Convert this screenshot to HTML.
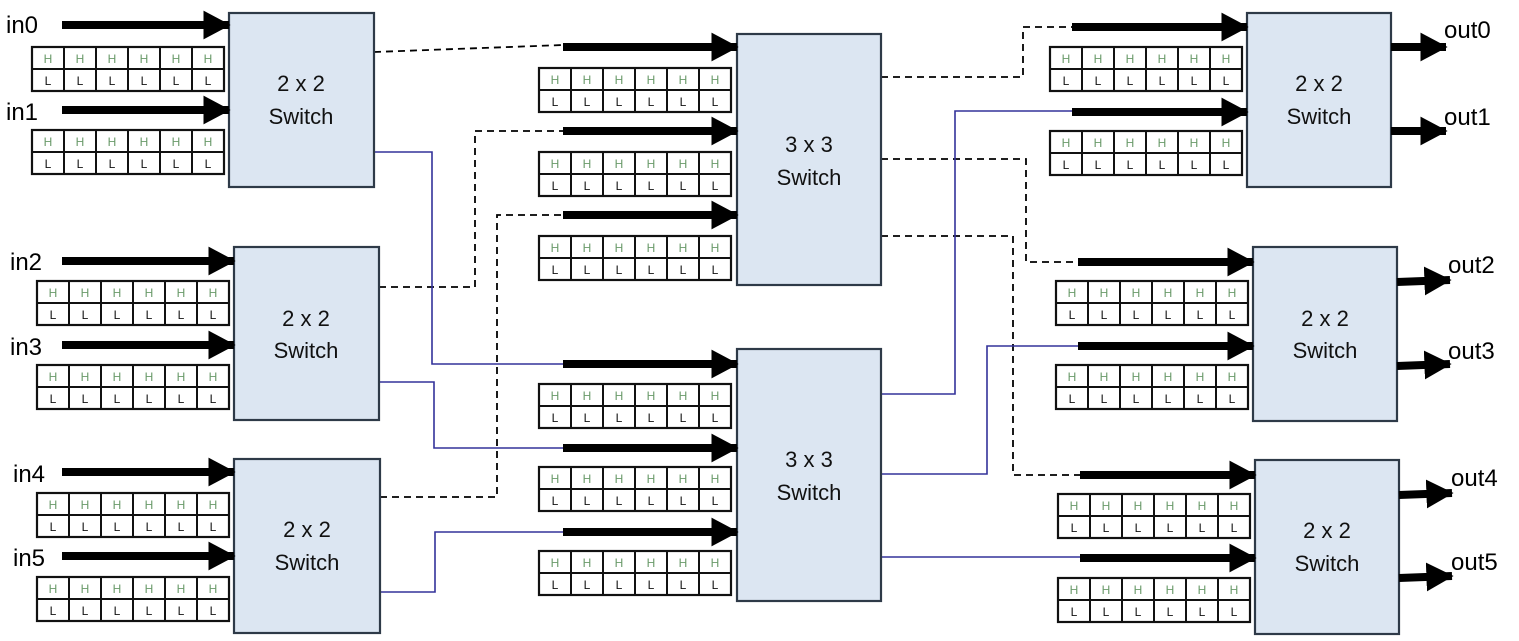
<!DOCTYPE html>
<html><head><meta charset="utf-8"><style>
html,body{margin:0;padding:0;background:#fff;}
svg{display:block;font-family:"Liberation Sans",Arial,sans-serif;}
.sw{fill:#dce6f2;stroke:#2e3a48;stroke-width:2.2;}
.st{font-size:22px;fill:#111;text-anchor:middle;}
.lb{font-size:24px;fill:#000;}
.bo{fill:#fff;stroke:#111;stroke-width:2.2;}
.bl{stroke:#111;stroke-width:2;}
.h{font-size:12px;fill:#6a9a6a;text-anchor:middle;}
.l{font-size:12px;fill:#111;text-anchor:middle;}
.ar{stroke:#000;stroke-width:8;}
.ds{fill:none;stroke:#000;stroke-width:1.8;stroke-dasharray:7,5;}
.bu{fill:none;stroke:#33329a;stroke-width:1.6;}
</style></head><body>
<svg width="1519" height="641" viewBox="0 0 1519 641" xmlns="http://www.w3.org/2000/svg">
<defs>
<marker id="ah" markerWidth="4" markerHeight="4" refX="3.2" refY="2" orient="auto" markerUnits="strokeWidth"><path d="M0,0.2 L3.4,2 L0,3.8 Z" fill="#000"/></marker>
</defs>

<!-- connectors -->
<path class="ds" d="M374,52 L563,45"/>
<path class="ds" d="M379,287 H475 V131 H563"/>
<path class="ds" d="M380,497 H497 V215 H563"/>
<path class="bu" d="M374,152 H432 V364 H563"/>
<path class="bu" d="M379,382 H434 V448 H563"/>
<path class="bu" d="M380,592 H435 V532 H563"/>
<path class="ds" d="M881,77 H1023 V27 H1072"/>
<path class="ds" d="M881,159 H1026 V262 H1078"/>
<path class="ds" d="M881,236 H1013 V475 H1080"/>
<path class="bu" d="M881,394 H955 V111 H1072"/>
<path class="bu" d="M881,474 H987 V346 H1078"/>
<path class="bu" d="M881,557 H1080"/>

<!-- switches -->
<rect class="sw" x="229" y="13" width="145" height="174"/>
<text class="st" x="301" y="91">2 x 2</text><text class="st" x="301" y="124">Switch</text>
<rect class="sw" x="234" y="247" width="145" height="173"/>
<text class="st" x="306" y="326">2 x 2</text><text class="st" x="306" y="358">Switch</text>
<rect class="sw" x="234" y="459" width="146" height="174"/>
<text class="st" x="307" y="537">2 x 2</text><text class="st" x="307" y="570">Switch</text>
<rect class="sw" x="737" y="34" width="144" height="251"/>
<text class="st" x="809" y="152">3 x 3</text><text class="st" x="809" y="185">Switch</text>
<rect class="sw" x="737" y="349" width="144" height="252"/>
<text class="st" x="809" y="467">3 x 3</text><text class="st" x="809" y="500">Switch</text>
<rect class="sw" x="1247" y="13" width="144" height="174"/>
<text class="st" x="1319" y="91">2 x 2</text><text class="st" x="1319" y="124">Switch</text>
<rect class="sw" x="1253" y="247" width="144" height="174"/>
<text class="st" x="1325" y="326">2 x 2</text><text class="st" x="1325" y="358">Switch</text>
<rect class="sw" x="1255" y="460" width="144" height="174"/>
<text class="st" x="1327" y="538">2 x 2</text><text class="st" x="1327" y="571">Switch</text>

<!-- input arrows -->
<g class="ar" marker-end="url(#ah)">
<line x1="62" y1="25" x2="229" y2="25"/>
<line x1="62" y1="110" x2="229" y2="110"/>
<line x1="62" y1="261" x2="234" y2="261"/>
<line x1="62" y1="345" x2="234" y2="345"/>
<line x1="62" y1="472" x2="234" y2="472"/>
<line x1="62" y1="556" x2="234" y2="556"/>
<line x1="563" y1="47" x2="737" y2="47"/>
<line x1="563" y1="131" x2="737" y2="131"/>
<line x1="563" y1="215" x2="737" y2="215"/>
<line x1="563" y1="364" x2="737" y2="364"/>
<line x1="563" y1="448" x2="737" y2="448"/>
<line x1="563" y1="532" x2="737" y2="532"/>
<line x1="1072" y1="27" x2="1247" y2="27"/>
<line x1="1072" y1="112" x2="1247" y2="112"/>
<line x1="1078" y1="262" x2="1253" y2="262"/>
<line x1="1078" y1="346" x2="1253" y2="346"/>
<line x1="1080" y1="475" x2="1255" y2="475"/>
<line x1="1080" y1="558" x2="1255" y2="558"/>
<line x1="1391" y1="47" x2="1446" y2="47"/>
<line x1="1391" y1="131" x2="1446" y2="131"/>
<line x1="1397" y1="282" x2="1450" y2="280"/>
<line x1="1397" y1="366" x2="1450" y2="364"/>
<line x1="1399" y1="495" x2="1452" y2="493"/>
<line x1="1399" y1="578" x2="1452" y2="576"/>
</g>

<!-- labels -->
<text class="lb" x="6" y="33">in0</text>
<text class="lb" x="6" y="120">in1</text>
<text class="lb" x="10" y="270">in2</text>
<text class="lb" x="10" y="355">in3</text>
<text class="lb" x="13" y="482">in4</text>
<text class="lb" x="13" y="566">in5</text>
<text class="lb" x="1444" y="38">out0</text>
<text class="lb" x="1444" y="125">out1</text>
<text class="lb" x="1448" y="273">out2</text>
<text class="lb" x="1448" y="359">out3</text>
<text class="lb" x="1451" y="486">out4</text>
<text class="lb" x="1451" y="570">out5</text>

<!-- buffers -->
<g id="buffers">
<g transform="translate(32,47)"><rect class="bo" width="192" height="44"/><path class="bl" d="M0,22H192M32,0V44M64,0V44M96,0V44M128,0V44M160,0V44"/><text class="h" x="16 48 80 112 144 176" y="16">HHHHHH</text><text class="l" x="16 48 80 112 144 176" y="38">LLLLLL</text></g>
<g transform="translate(32,130)"><rect class="bo" width="192" height="44"/><path class="bl" d="M0,22H192M32,0V44M64,0V44M96,0V44M128,0V44M160,0V44"/><text class="h" x="16 48 80 112 144 176" y="16">HHHHHH</text><text class="l" x="16 48 80 112 144 176" y="38">LLLLLL</text></g>
<g transform="translate(37,281)"><rect class="bo" width="192" height="44"/><path class="bl" d="M0,22H192M32,0V44M64,0V44M96,0V44M128,0V44M160,0V44"/><text class="h" x="16 48 80 112 144 176" y="16">HHHHHH</text><text class="l" x="16 48 80 112 144 176" y="38">LLLLLL</text></g>
<g transform="translate(37,365)"><rect class="bo" width="192" height="44"/><path class="bl" d="M0,22H192M32,0V44M64,0V44M96,0V44M128,0V44M160,0V44"/><text class="h" x="16 48 80 112 144 176" y="16">HHHHHH</text><text class="l" x="16 48 80 112 144 176" y="38">LLLLLL</text></g>
<g transform="translate(37,493)"><rect class="bo" width="192" height="44"/><path class="bl" d="M0,22H192M32,0V44M64,0V44M96,0V44M128,0V44M160,0V44"/><text class="h" x="16 48 80 112 144 176" y="16">HHHHHH</text><text class="l" x="16 48 80 112 144 176" y="38">LLLLLL</text></g>
<g transform="translate(37,577)"><rect class="bo" width="192" height="44"/><path class="bl" d="M0,22H192M32,0V44M64,0V44M96,0V44M128,0V44M160,0V44"/><text class="h" x="16 48 80 112 144 176" y="16">HHHHHH</text><text class="l" x="16 48 80 112 144 176" y="38">LLLLLL</text></g>
<g transform="translate(539,68)"><rect class="bo" width="192" height="44"/><path class="bl" d="M0,22H192M32,0V44M64,0V44M96,0V44M128,0V44M160,0V44"/><text class="h" x="16 48 80 112 144 176" y="16">HHHHHH</text><text class="l" x="16 48 80 112 144 176" y="38">LLLLLL</text></g>
<g transform="translate(539,152)"><rect class="bo" width="192" height="44"/><path class="bl" d="M0,22H192M32,0V44M64,0V44M96,0V44M128,0V44M160,0V44"/><text class="h" x="16 48 80 112 144 176" y="16">HHHHHH</text><text class="l" x="16 48 80 112 144 176" y="38">LLLLLL</text></g>
<g transform="translate(539,236)"><rect class="bo" width="192" height="44"/><path class="bl" d="M0,22H192M32,0V44M64,0V44M96,0V44M128,0V44M160,0V44"/><text class="h" x="16 48 80 112 144 176" y="16">HHHHHH</text><text class="l" x="16 48 80 112 144 176" y="38">LLLLLL</text></g>
<g transform="translate(539,384)"><rect class="bo" width="192" height="44"/><path class="bl" d="M0,22H192M32,0V44M64,0V44M96,0V44M128,0V44M160,0V44"/><text class="h" x="16 48 80 112 144 176" y="16">HHHHHH</text><text class="l" x="16 48 80 112 144 176" y="38">LLLLLL</text></g>
<g transform="translate(539,467)"><rect class="bo" width="192" height="44"/><path class="bl" d="M0,22H192M32,0V44M64,0V44M96,0V44M128,0V44M160,0V44"/><text class="h" x="16 48 80 112 144 176" y="16">HHHHHH</text><text class="l" x="16 48 80 112 144 176" y="38">LLLLLL</text></g>
<g transform="translate(539,551)"><rect class="bo" width="192" height="44"/><path class="bl" d="M0,22H192M32,0V44M64,0V44M96,0V44M128,0V44M160,0V44"/><text class="h" x="16 48 80 112 144 176" y="16">HHHHHH</text><text class="l" x="16 48 80 112 144 176" y="38">LLLLLL</text></g>
<g transform="translate(1050,47)"><rect class="bo" width="192" height="44"/><path class="bl" d="M0,22H192M32,0V44M64,0V44M96,0V44M128,0V44M160,0V44"/><text class="h" x="16 48 80 112 144 176" y="16">HHHHHH</text><text class="l" x="16 48 80 112 144 176" y="38">LLLLLL</text></g>
<g transform="translate(1050,131)"><rect class="bo" width="192" height="44"/><path class="bl" d="M0,22H192M32,0V44M64,0V44M96,0V44M128,0V44M160,0V44"/><text class="h" x="16 48 80 112 144 176" y="16">HHHHHH</text><text class="l" x="16 48 80 112 144 176" y="38">LLLLLL</text></g>
<g transform="translate(1056,281)"><rect class="bo" width="192" height="44"/><path class="bl" d="M0,22H192M32,0V44M64,0V44M96,0V44M128,0V44M160,0V44"/><text class="h" x="16 48 80 112 144 176" y="16">HHHHHH</text><text class="l" x="16 48 80 112 144 176" y="38">LLLLLL</text></g>
<g transform="translate(1056,365)"><rect class="bo" width="192" height="44"/><path class="bl" d="M0,22H192M32,0V44M64,0V44M96,0V44M128,0V44M160,0V44"/><text class="h" x="16 48 80 112 144 176" y="16">HHHHHH</text><text class="l" x="16 48 80 112 144 176" y="38">LLLLLL</text></g>
<g transform="translate(1058,494)"><rect class="bo" width="192" height="44"/><path class="bl" d="M0,22H192M32,0V44M64,0V44M96,0V44M128,0V44M160,0V44"/><text class="h" x="16 48 80 112 144 176" y="16">HHHHHH</text><text class="l" x="16 48 80 112 144 176" y="38">LLLLLL</text></g>
<g transform="translate(1058,578)"><rect class="bo" width="192" height="44"/><path class="bl" d="M0,22H192M32,0V44M64,0V44M96,0V44M128,0V44M160,0V44"/><text class="h" x="16 48 80 112 144 176" y="16">HHHHHH</text><text class="l" x="16 48 80 112 144 176" y="38">LLLLLL</text></g>
</g>
</svg>
</body></html>
